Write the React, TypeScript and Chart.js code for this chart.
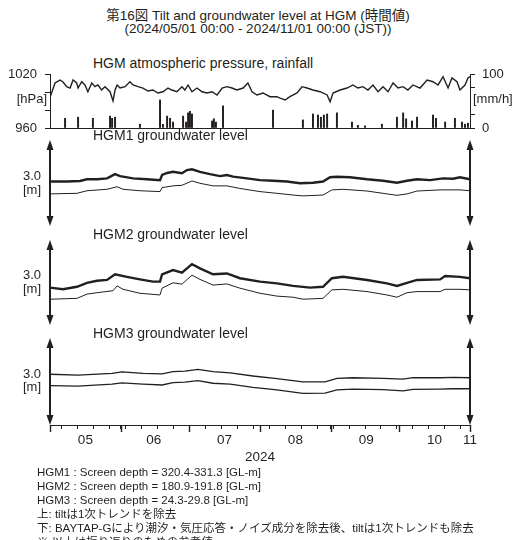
import React, { useEffect, useRef } from 'react';
import { Chart, registerables } from 'chart.js';

Chart.register(...registerables);

const FONT = "'Liberation Sans', 'Noto Sans CJK JP', sans-serif";
const INK = '#231f20';

// ---- time axis (days since 2024-05-01 00:00 JST) ----
const PERIOD_END = 184;
const monthStartDays = [0, 31, 61, 92, 123, 153, 184];
const monthMidDays = [15.5, 45.5, 76.5, 107.5, 138.5, 168.5];
const monthLabels = ['05', '06', '07', '08', '09', '10'];
const endLabel = '11';
const mondayDays = [5, 12, 19, 26, 33, 40, 47, 54, 68, 75, 82, 89, 96, 103, 110, 117, 124, 131, 138, 145, 152, 159, 166, 173, 180];

// ---- atmospheric pressure [hPa] ----
const pressureDays = [0, 2.2, 4.4, 5.7, 7.3, 8.8, 10.1, 11.7, 12.3, 13.9, 15.3, 16.6, 18.3, 19.7, 21.0, 22.6, 24.1, 26.3, 27.6, 28.5, 29.4, 30.7, 32.9, 35.0, 36.4, 38.6, 40.7, 42.9, 45.1, 47.3, 49.5, 51.7, 53.4, 55.6, 57.8, 59.1, 60.5, 62.2, 64.4, 66.6, 68.8, 71.0, 73.2, 75.4, 77.5, 79.7, 81.9, 84.6, 86.7, 88.5, 90.7, 93.3, 96.4, 99.4, 100.8, 103.0, 105.1, 108.2, 110.4, 112.6, 115.2, 118.3, 121.4, 122.7, 124.0, 127.1, 130.1, 132.7, 134.9, 137.1, 139.3, 141.5, 143.7, 145.9, 148.1, 150.3, 152.5, 154.7, 156.8, 159.0, 162.1, 165.2, 167.8, 170.0, 172.2, 174.4, 176.1, 178.3, 179.6, 181.8, 183.1, 184];
const pressureHpa = [994, 1010, 1013.3, 1011.1, 1005.9, 1004.4, 1013.3, 1010, 1004.4, 1011.4, 1007.8, 1000.3, 1010, 1005.9, 1007.8, 1002.2, 1005.9, 1000.3, 990, 1002.2, 1007.8, 1004.4, 1005.9, 1011.4, 1007.8, 1005.9, 1004.4, 1001.1, 1002.2, 998.9, 1000.3, 1004.4, 1002.2, 1000.3, 1005.9, 1002.2, 1007.8, 1000.3, 1004.4, 1000.3, 998.9, 1000.3, 996.7, 1004.4, 1005.9, 1004.4, 1002.2, 1004.4, 1010, 1000.3, 996.7, 998.9, 994.8, 994.8, 993.3, 991.1, 994.8, 998.9, 1005.9, 1004.4, 1002.2, 1000.3, 996.7, 989.2, 998.9, 1002.2, 1004.4, 1007.8, 1004.4, 1005.9, 1002.2, 1007.8, 1000.3, 1005.9, 1000.3, 1010, 1004.4, 1005.9, 1002.2, 1007.8, 1004.4, 1013.3, 1011.4, 1007.8, 1017, 1004.4, 1015.6, 1011.4, 1002.2, 1007.8, 1015.6, 1017];
const pressureTicks = [960, 980, 1000, 1020];
const pressureMin = 960;
const pressureMax = 1020;

// ---- rainfall [mm/h] ----
const rainDays = [6.6, 12.3, 18.8, 26.3, 27.2, 28.5, 39.4, 48.2, 49.5, 51.3, 52.6, 53.9, 58.3, 59.6, 60.5, 61.3, 62.2, 71.0, 71.8, 72.7, 75.8, 97.7, 110.8, 115.2, 117.4, 118.7, 120.0, 121.4, 125.7, 132.3, 134.9, 138.0, 145.4, 152.0, 154.7, 156.0, 158.6, 160.8, 167.8, 169.1, 173.1, 177.4, 180.5, 181.8, 183.1];
const rainMm = [18, 20, 18, 22, 18, 20, 7, 52, 7, 22, 18, 11, 22, 11, 28, 31, 26, 13, 17, 11, 41, 33, 15, 26, 24, 20, 24, 26, 28, 11, 5, 4, 7, 20, 28, 17, 13, 20, 24, 18, 11, 18, 11, 7, 9];
const rainTicks = [0, 25, 75, 100];
const rainMax = 100;

// ---- groundwater levels [m], relative within a 3.0 m scale ----
const levelSpan = 3.0;

const hgm1UpperDays = [0, 7.4, 13.1, 16.2, 20.6, 25.0, 28.5, 30.7, 36.4, 42.5, 48.2, 49.1, 51.3, 53.9, 57.8, 60.0, 62.2, 65.7, 70.1, 74.5, 77.5, 80.2, 86.3, 92.0, 97.7, 103.8, 109.5, 115.2, 119.6, 122.7, 125.7, 131.4, 138.9, 145.9, 152.0, 156.4, 160.8, 166.5, 172.2, 176.6, 179.6, 184];
const hgm1Upper = [1.55, 1.55, 1.57, 1.63, 1.63, 1.66, 1.81, 1.74, 1.66, 1.63, 1.60, 1.78, 1.85, 1.89, 1.84, 1.95, 1.98, 1.89, 1.81, 1.74, 1.78, 1.72, 1.66, 1.60, 1.58, 1.55, 1.49, 1.51, 1.55, 1.70, 1.72, 1.70, 1.63, 1.58, 1.51, 1.58, 1.63, 1.60, 1.66, 1.65, 1.70, 1.63];
const hgm1LowerDays = [0, 11.8, 16.2, 25.0, 29.4, 32.0, 39.4, 48.2, 49.1, 53.9, 57.8, 62.2, 65.7, 71.4, 77.5, 83.2, 92.0, 99.4, 106.5, 110.8, 119.6, 123.5, 128.4, 138.9, 147.6, 152.0, 156.4, 160.8, 170.9, 179.6, 184];
const hgm1Lower = [1.12, 1.14, 1.23, 1.28, 1.37, 1.28, 1.23, 1.20, 1.34, 1.40, 1.42, 1.57, 1.49, 1.40, 1.40, 1.31, 1.20, 1.14, 1.08, 1.05, 1.08, 1.26, 1.28, 1.22, 1.12, 1.07, 1.12, 1.22, 1.26, 1.26, 1.23];

const hgm2UpperDays = [0, 5.7, 11.8, 16.2, 20.6, 25.0, 28.5, 33.7, 39.4, 45.1, 48.2, 49.1, 53.9, 57.8, 62.2, 65.7, 71.4, 77.5, 83.2, 92.0, 99.4, 106.5, 113.9, 119.6, 123.5, 128.4, 138.9, 147.6, 152.0, 156.4, 160.8, 170.9, 173.1, 179.6, 184];
const hgm2Upper = [1.32, 1.26, 1.35, 1.49, 1.56, 1.59, 1.79, 1.70, 1.61, 1.53, 1.53, 1.79, 1.94, 1.85, 2.15, 2.00, 1.79, 1.82, 1.65, 1.53, 1.47, 1.38, 1.32, 1.35, 1.65, 1.70, 1.59, 1.47, 1.38, 1.49, 1.59, 1.61, 1.73, 1.70, 1.65];
const hgm2LowerDays = [0, 11.8, 16.2, 20.6, 27.6, 29.4, 32.0, 39.4, 48.2, 49.1, 53.9, 57.8, 62.2, 65.7, 71.4, 77.5, 83.2, 92.0, 99.4, 106.5, 110.8, 119.6, 123.5, 128.4, 138.9, 147.6, 152.0, 156.4, 160.8, 170.9, 173.1, 179.6, 184];
const hgm2Lower = [0.91, 0.94, 1.09, 1.14, 1.21, 1.38, 1.26, 1.12, 1.06, 1.30, 1.49, 1.44, 1.76, 1.61, 1.41, 1.45, 1.30, 1.12, 1.02, 0.98, 0.91, 0.94, 1.24, 1.26, 1.18, 1.06, 0.98, 1.14, 1.18, 1.18, 1.26, 1.26, 1.24];

const hgm3Days = [0, 12.3, 27.2, 31.5, 40.7, 49.1, 53.9, 59.1, 64.8, 71.4, 78.9, 88.9, 99.4, 110.8, 120.5, 125.7, 132.7, 145.9, 154.7, 159.0, 170.9, 176.6, 184];
const hgm3Upper = [1.75, 1.72, 1.78, 1.83, 1.78, 1.76, 1.84, 1.86, 1.92, 1.84, 1.80, 1.69, 1.60, 1.49, 1.49, 1.61, 1.63, 1.61, 1.58, 1.63, 1.63, 1.64, 1.63];
const hgm3Lower = [1.36, 1.34, 1.41, 1.45, 1.41, 1.38, 1.46, 1.48, 1.53, 1.44, 1.41, 1.30, 1.21, 1.09, 1.10, 1.21, 1.24, 1.22, 1.18, 1.23, 1.24, 1.25, 1.25];

const pts = (xs: number[], ys: number[]) => xs.map((x, i) => ({ x, y: ys[i] }));

const W = 516;

const arrowAxes = {
  id: 'arrowAxes',
  afterDraw(chart: any) {
    const y = chart.scales.y;
    const x = chart.scales.x;
    const top = y.getPixelForValue(levelSpan);
    const bottom = y.getPixelForValue(0);
    const ctx = chart.ctx;
    ctx.save();
    ctx.strokeStyle = INK;
    ctx.fillStyle = INK;
    ctx.lineWidth = 2;
    [x.getPixelForValue(0), x.getPixelForValue(PERIOD_END)].forEach((px: number) => {
      ctx.beginPath();
      ctx.moveTo(px, top + 6);
      ctx.lineTo(px, bottom - 6);
      ctx.stroke();
      ctx.beginPath();
      ctx.moveTo(px, top);
      ctx.lineTo(px - 3.5, top + 10);
      ctx.lineTo(px + 3.5, top + 10);
      ctx.closePath();
      ctx.fill();
      ctx.beginPath();
      ctx.moveTo(px, bottom);
      ctx.lineTo(px - 3.5, bottom - 10);
      ctx.lineTo(px + 3.5, bottom - 10);
      ctx.closePath();
      ctx.fill();
    });
    ctx.restore();
  },
};

// longer tick marks at the month boundaries of the time axis
const monthTicks = {
  id: 'monthTicks',
  afterDraw(chart: any) {
    const x = chart.scales.x;
    if (!x || !x.options.display) return;
    const ctx = chart.ctx;
    ctx.save();
    ctx.strokeStyle = INK;
    ctx.lineWidth = 1.4;
    monthStartDays.forEach((d) => {
      const px = Math.round(x.getPixelForValue(d)) + 0.5;
      ctx.beginPath();
      ctx.moveTo(px, x.top);
      ctx.lineTo(px, x.top + 7);
      ctx.stroke();
    });
    ctx.restore();
  },
};

const noLabelPadding = (s: any) => { s.paddingTop = 0; s.paddingBottom = 0; };

function pressureConfig(): any {
  return {
    type: 'line',
    data: {
      datasets: [
        {
          type: 'line',
          data: pts(pressureDays, pressureHpa),
          yAxisID: 'yP',
          borderColor: INK,
          borderWidth: 1.4,
          pointRadius: 0,
          tension: 0,
        },
        {
          type: 'bar',
          data: pts(rainDays, rainMm),
          yAxisID: 'yR',
          backgroundColor: INK,
          barThickness: 1.3,
        },
      ],
    },
    options: {
      animation: false,
      responsive: false,
      events: [],
      layout: { padding: { top: 10, bottom: 6, left: 0, right: 0 } },
      plugins: { legend: { display: false }, tooltip: { enabled: false } },
      scales: {
        x: {
          type: 'linear', min: 0, max: PERIOD_END, offset: false,
          ticks: { display: false },
          grid: { display: false, drawTicks: false },
          border: { display: true, color: INK, width: 1 },
          afterFit: (s: any) => { s.height = 0; s.paddingLeft = 0; s.paddingRight = 0; },
        },
        yP: {
          position: 'left', min: pressureMin, max: pressureMax,
          afterBuildTicks: (s: any) => { s.ticks = pressureTicks.map((v) => ({ value: v })); },
          ticks: {
            autoSkip: false,
            callback: (v: number) => (v === pressureMin || v === pressureMax ? String(v) : ''),
            color: INK, font: { family: FONT, size: 13 }, padding: 8,
          },
          grid: { drawOnChartArea: false, tickLength: 5, tickColor: INK },
          border: { display: true, color: INK, width: 1 },
          afterFit: (s: any) => { s.width = 50; noLabelPadding(s); },
        },
        yR: {
          position: 'right', min: 0, max: rainMax,
          afterBuildTicks: (s: any) => { s.ticks = rainTicks.map((v) => ({ value: v })); },
          ticks: {
            autoSkip: false,
            callback: (v: number) => (v === 0 || v === rainMax ? String(v) : ''),
            color: INK, font: { family: FONT, size: 13 }, padding: 7,
          },
          grid: { drawOnChartArea: false, tickLength: 5, tickColor: INK },
          border: { display: true, color: INK, width: 1 },
          afterFit: (s: any) => { s.width = W - 470; noLabelPadding(s); },
        },
      },
    },
  };
}

function levelConfig(upper: any[], lower: any[], upperWidth: number, lowerWidth: number, withAxis: boolean): any {
  const tickLabel = new Map<number, string>();
  monthMidDays.forEach((d, i) => tickLabel.set(d, monthLabels[i]));
  tickLabel.set(PERIOD_END, endLabel);
  const allTicks = [...monthStartDays, ...mondayDays, ...monthMidDays].sort((a, b) => a - b);
  return {
    type: 'line',
    data: {
      datasets: [
        { data: upper, borderColor: INK, borderWidth: upperWidth, pointRadius: 0, tension: 0 },
        { data: lower, borderColor: INK, borderWidth: lowerWidth, pointRadius: 0, tension: 0 },
      ],
    },
    plugins: [arrowAxes, monthTicks],
    options: {
      animation: false,
      responsive: false,
      events: [],
      layout: { padding: { top: 4, bottom: withAxis ? 0 : 4, left: 50, right: W - 470 } },
      plugins: { legend: { display: false }, tooltip: { enabled: false } },
      scales: {
        x: withAxis
          ? {
              type: 'linear', min: 0, max: PERIOD_END, offset: false,
              afterBuildTicks: (s: any) => { s.ticks = allTicks.map((v) => ({ value: v })); },
              ticks: {
                autoSkip: false, maxRotation: 0, minRotation: 0,
                callback: (v: number) => tickLabel.get(v) ?? '',
                color: INK, font: { family: FONT, size: 13.5 }, padding: 3,
              },
              grid: {
                drawOnChartArea: false, tickLength: 4,
                tickColor: (c: any) => (c.tick && monthMidDays.includes(c.tick.value) ? 'rgba(0,0,0,0)' : INK),
                tickWidth: 1,
              },
              border: { display: true, color: INK, width: 1 },
              title: { display: true, text: '2024', color: INK, font: { family: FONT, size: 13.5 }, padding: { top: 0, bottom: 10 } },
              afterFit: (s: any) => { s.height = 50; s.paddingLeft = 0; s.paddingRight = 0; },
            }
          : { type: 'linear', min: 0, max: PERIOD_END, display: false },
        y: { min: 0, max: levelSpan, display: false },
      },
    },
  };
}

function ChartCanvas({ top, height, config }: { top: number; height: number; config: () => any }) {
  const ref = useRef<HTMLCanvasElement | null>(null);
  useEffect(() => {
    if (!ref.current) return;
    const chart = new Chart(ref.current, config());
    return () => chart.destroy();
  }, []);
  return (
    <canvas
      ref={ref}
      width={W}
      height={height}
      style={{ position: 'absolute', left: 0, top, width: W, height, display: 'block' }}
    />
  );
}

function T({ x, y, children, align = 'left', size = 14 }: { x: number; y: number; children: any; align?: 'left' | 'right' | 'center'; size?: number }) {
  const style: any = {
    position: 'absolute',
    top: y,
    whiteSpace: 'nowrap',
    fontSize: size,
    lineHeight: 1.2,
    color: INK,
    fontFamily: FONT,
  };
  if (align === 'left') { style.left = x; style.transform = 'translateY(-50%)'; }
  if (align === 'right') { style.right = W - x; style.transform = 'translateY(-50%)'; }
  if (align === 'center') { style.left = x; style.transform = 'translate(-50%, -50%)'; }
  return <div style={style}>{children}</div>;
}

const footnotes = [
  'HGM1 : Screen depth = 320.4-331.3 [GL-m]',
  'HGM2 : Screen depth = 180.9-191.8 [GL-m]',
  'HGM3 : Screen depth = 24.3-29.8 [GL-m]',
  '上: tiltは1次トレンドを除去',
  '下: BAYTAP-Gにより潮汐・気圧応答・ノイズ成分を除去後、tiltは1次トレンドも除去',
  '※ 以上は振り返りのための参考値',
];

export default function App() {
  return (
    <div style={{ position: 'absolute', left: 0, top: 0, width: W, height: 540, overflow: 'hidden', background: '#fff' }}>
      <T x={258} y={16} align="center" size={13.5}>第16図 Tilt and groundwater level at HGM (時間値)</T>
      <T x={258} y={29} align="center" size={13.5}>(2024/05/01 00:00 - 2024/11/01 00:00 (JST))</T>

      <T x={93} y={63}>HGM atmospheric pressure, rainfall</T>
      <ChartCanvas top={64} height={70} config={pressureConfig} />
      <T x={47} y={99} align="right" size={13}>[hPa]</T>
      <T x={473} y={99} size={13}>[mm/h]</T>

      <T x={93} y={135}>HGM1 groundwater level</T>
      <ChartCanvas top={136} height={94} config={() => levelConfig(pts(hgm1UpperDays, hgm1Upper), pts(hgm1LowerDays, hgm1Lower), 2.4, 1, false)} />
      <T x={41} y={176} align="right" size={13}>3.0</T>
      <T x={41} y={190} align="right" size={13}>[m]</T>

      <T x={93} y={234}>HGM2 groundwater level</T>
      <ChartCanvas top={236} height={93} config={() => levelConfig(pts(hgm2UpperDays, hgm2Upper), pts(hgm2LowerDays, hgm2Lower), 2.4, 1, false)} />
      <T x={41} y={275} align="right" size={13}>3.0</T>
      <T x={41} y={289} align="right" size={13}>[m]</T>

      <T x={93} y={333}>HGM3 groundwater level</T>
      <ChartCanvas top={334} height={141} config={() => levelConfig(pts(hgm3Days, hgm3Upper), pts(hgm3Days, hgm3Lower), 1.3, 1.3, true)} />
      <T x={41} y={374} align="right" size={13}>3.0</T>
      <T x={41} y={387} align="right" size={13}>[m]</T>

      {footnotes.map((t, i) => (
        <T key={i} x={37} y={473 + i * 14} size={11.5}>{t}</T>
      ))}
    </div>
  );
}
